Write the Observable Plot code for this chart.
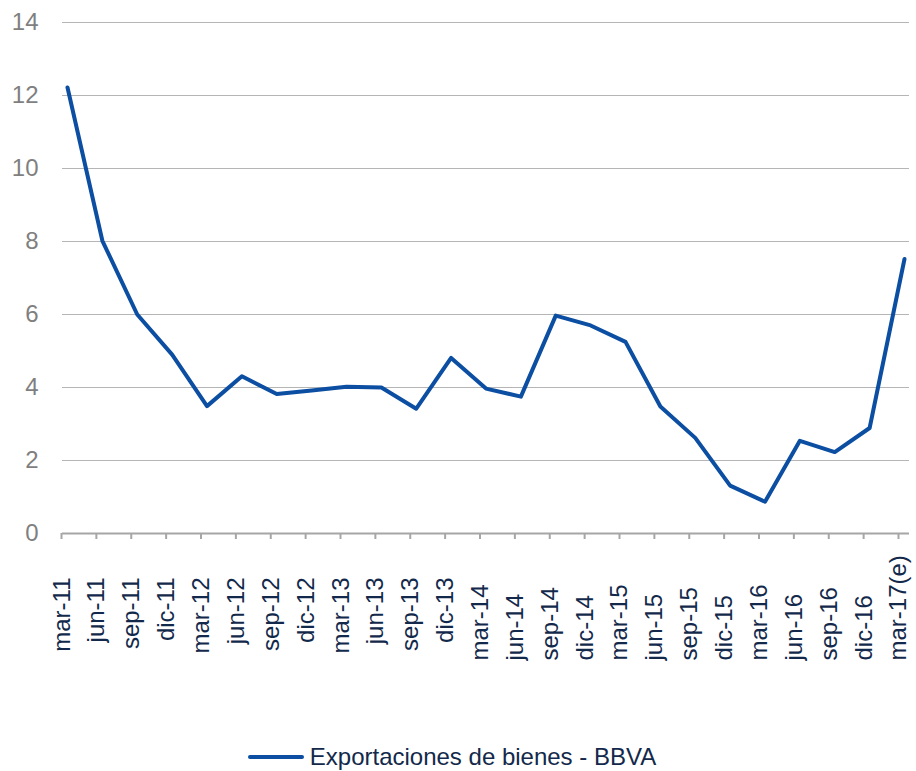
<!DOCTYPE html>
<html>
<head>
<meta charset="utf-8">
<script src="https://cdn.jsdelivr.net/npm/d3@7"></script>
<script src="https://cdn.jsdelivr.net/npm/@observablehq/plot@0.6"></script>
<style>
  html, body { margin: 0; padding: 0; background: #fff; }
  body { width: 916px; height: 771px; position: relative; overflow: hidden; font-family: "Liberation Sans", Arial, sans-serif; }
  #chart svg { display: block; }
  #legend { position: absolute; left: 0; width: 904px; top: 742px; height: 30px; display: flex; justify-content: center; align-items: center; font-size: 24px; color: #13294b; }
  #legend svg { margin-right: 6px; }
</style>
</head>
<body>
<div id="chart"></div>
<div id="legend"></div>
<script>
const categories = ["mar-11","jun-11","sep-11","dic-11","mar-12","jun-12","sep-12","dic-12","mar-13","jun-13","sep-13","dic-13","mar-14","jun-14","sep-14","dic-14","mar-15","jun-15","sep-15","dic-15","mar-16","jun-16","sep-16","dic-16","mar-17(e)"];
const values = [12.22, 8.02, 6.0, 4.9, 3.49, 4.31, 3.82, 3.92, 4.02, 4.0, 3.42, 4.81, 3.97, 3.75, 5.97, 5.7, 5.25, 3.48, 2.62, 1.31, 0.87, 2.54, 2.23, 2.89, 7.52];
const yTicks = [0, 2, 4, 6, 8, 10, 12, 14];
const seriesName = "Exportaciones de bienes - BBVA";

const lineColor = "#0b4ea2";
const data = categories.map((c, i) => ({i, cat: c, value: values[i]}));
const firstGroup = data.slice(0, 12);
const secondGroup = data.slice(12);
const pad = 0.1434; // fraction of a category step between frame edge and first/last point

const chart = Plot.plot({
  width: 916,
  height: 700,
  marginTop: 22,
  marginBottom: 167,
  marginLeft: 62,
  marginRight: 7,
  style: {fontFamily: "'Liberation Sans', Arial, sans-serif", fontSize: "24px", background: "white", overflow: "visible"},
  x: {type: "linear", domain: [-pad, categories.length - 1 + pad]},
  y: {domain: [0, 14]},
  marks: [
    Plot.gridY(yTicks.filter(t => t > 0), {stroke: "#b5b5b5", strokeOpacity: 1, strokeWidth: 1.2}),
    Plot.axisY(yTicks, {tickSize: 0, tickPadding: 24, fill: "#7f7f7f", fontSize: 24, label: null}),
    Plot.axisX(d3.range(categories.length), {tickSize: 6, tickFormat: () => "", dx: -6, stroke: "#a6a6a6", strokeWidth: 2, label: null}),
    Plot.ruleY([0], {stroke: "#a6a6a6", strokeWidth: 2}),
    Plot.line(data, {x: "i", y: "value", stroke: lineColor, strokeWidth: 4, strokeLinejoin: "round"}),
    Plot.text(firstGroup, {x: "i", text: "cat", frameAnchor: "bottom", rotate: -90, textAnchor: "end", dy: 44, dx: 2, fill: "#13294b", fontSize: 24}),
    Plot.text(secondGroup, {x: "i", text: "cat", frameAnchor: "bottom", rotate: -90, textAnchor: "start", dy: 127, dx: 2, fill: "#13294b", fontSize: 24})
  ]
});
document.getElementById("chart").append(chart);

const legend = document.getElementById("legend");
const ns = "http://www.w3.org/2000/svg";
const sw = document.createElementNS(ns, "svg");
sw.setAttribute("width", 56); sw.setAttribute("height", 8);
const ln = document.createElementNS(ns, "line");
ln.setAttribute("x1", 2); ln.setAttribute("x2", 54); ln.setAttribute("y1", 4); ln.setAttribute("y2", 4);
ln.setAttribute("stroke", lineColor); ln.setAttribute("stroke-width", 4); ln.setAttribute("stroke-linecap", "round");
sw.append(ln);
const span = document.createElement("span");
span.textContent = seriesName;
legend.append(sw, span);
</script>
</body>
</html>
